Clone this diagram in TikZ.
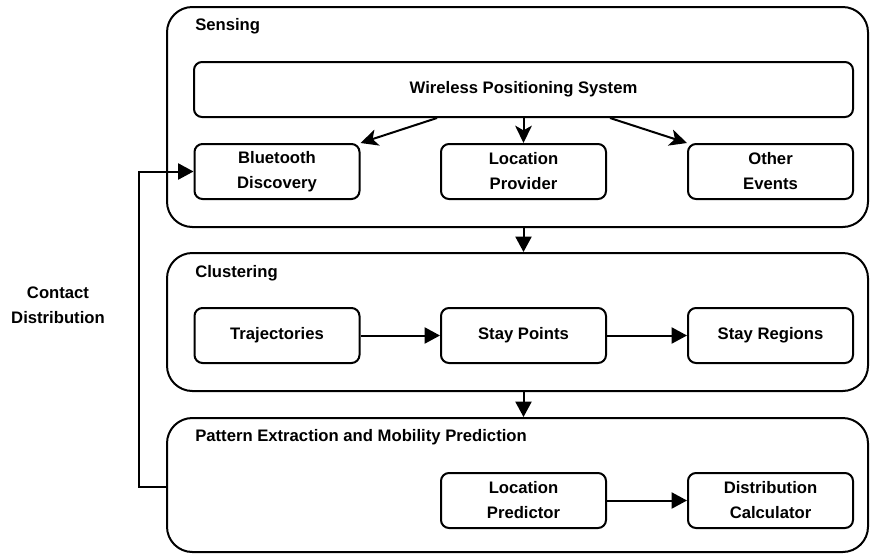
\documentclass[tikz,border=0pt]{standalone}
\usepackage{fontspec}
\setmainfont{Liberation Sans}
\usetikzlibrary{arrows.meta,calc}
\begin{document}
\begin{tikzpicture}[x=0.75pt,y=-0.75pt,
  font=\fontsize{12.5}{18.75}\selectfont\bfseries,
  group/.style={draw,line width=1.5pt,rounded corners=19pt,minimum width=701*0.75pt,inner sep=0pt},
  box/.style={draw,line width=1.5pt,rounded corners=6pt,minimum width=165*0.75pt,minimum height=55*0.75pt,align=center,inner sep=0pt},
  title/.style={anchor=base west,inner sep=0pt},
  arr/.style={line width=1.5pt,-{Triangle[length=11.5pt,width=12pt]}},
  sarr/.style={line width=1.5pt,-{Stealth[length=13pt,width=12.5pt,inset=3.5pt]}}]
\useasboundingbox (0,0) rectangle (870,554);
% groups
\node[group,minimum height=220*0.75pt] (sen) at (517.5,117) {};
\node[group,minimum height=138*0.75pt] (clu) at (517.5,322) {};
\node[group,minimum height=134*0.75pt] (pat) at (517.5,485) {};
\node[title] (tsen) at (195,30) {Sensing};
\node[title] (tclu) at (195,277) {Clustering};
\node[title] (tpat) at (195,441) {Pattern Extraction and Mobility Prediction};
% sensing
\node[box,minimum width=659*0.75pt] (wps) at (523.5,89.5) {Wireless Positioning System};
\node[box] (bt) at (277,171.5) {Bluetooth\\Discovery};
\node[box] (lp) at (523.5,171.5) {Location\\Provider};
\node[box] (oe) at (770.5,171.5) {Other\\Events};
% clustering
\node[box] (tr) at (277,335.5) {Trajectories};
\node[box] (sp) at (523.5,335.5) {Stay Points};
\node[box] (sr) at (770.5,335.5) {Stay Regions};
% pattern
\node[box] (lpr) at (523.5,500.5) {Location\\Predictor};
\node[box] (dc) at (770.5,500.5) {Distribution\\Calculator};
% contact distribution
\node[align=center,inner sep=0pt] (cd) at (58,305) {Contact\\Distribution};
% arrows
\draw[sarr] (wps.south -| 437,0) -- (bt.north east);
\draw[sarr] (wps.south) -- (lp.north);
\draw[sarr] (wps.south -| 610,0) -- (oe.north west);
\draw[arr] (sen.south -| lp) -- (clu.north -| lp);
\draw[arr] (clu.south -| lp) -- (pat.north -| lp);
\draw[arr] (tr) -- (sp);
\draw[arr] (sp) -- (sr);
\draw[arr] (lpr) -- (dc);
\coordinate (fb) at (139,487);
\draw[arr] (pat.west |- fb) -- (fb) |- (bt.west);
\end{tikzpicture}
\end{document}
